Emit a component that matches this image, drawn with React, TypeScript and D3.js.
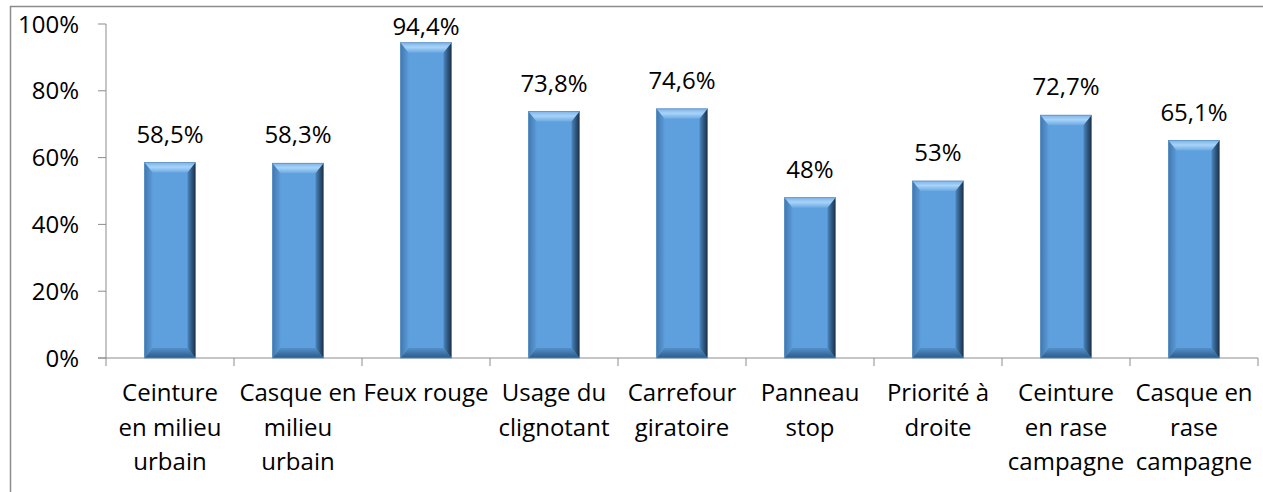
import React from "react";
import * as d3 from "d3";

// data
const categories = [
  ["Ceinture", "en milieu", "urbain"],
  ["Casque en", "milieu", "urbain"],
  ["Feux rouge"],
  ["Usage du", "clignotant"],
  ["Carrefour", "giratoire"],
  ["Panneau", "stop"],
  ["Priorité à", "droite"],
  ["Ceinture", "en rase", "campagne"],
  ["Casque en", "rase", "campagne"],
];
const values = [58.5, 58.3, 94.4, 73.8, 74.6, 48, 53, 72.7, 65.1];
const valueLabels = ["58,5%", "58,3%", "94,4%", "73,8%", "74,6%", "48%", "53%", "72,7%", "65,1%"];
const yTicks = [0, 20, 40, 60, 80, 100];

const W = 1263;
const H = 492;
const left = 106;
const right = 1258;
const top = 24;
const bottom = 358;
const font = "'Open Sans', sans-serif";
const fontSize = 24;

function Bar({ x, y, w, h }: { x: number; y: number; w: number; h: number }) {
  const b = Math.min(10, h / 2);
  const s = 8;
  return (
    <g>
      <rect x={x} y={y} width={w} height={h} fill="#5e9fdd" />
      {/* top bevel */}
      <polygon
        points={`${x},${y} ${x + w},${y} ${x + w - s},${y + b} ${x + s},${y + b}`}
        fill="url(#bevTop)"
      />
      {/* bottom bevel */}
      <polygon
        points={`${x},${y + h} ${x + w},${y + h} ${x + w - s},${y + h - b} ${x + s},${y + h - b}`}
        fill="url(#bevBottom)"
      />
      {/* left bevel */}
      <polygon
        points={`${x},${y} ${x + s},${y + b} ${x + s},${y + h - b} ${x},${y + h}`}
        fill="url(#bevLeft)"
      />
      {/* right bevel */}
      <polygon
        points={`${x + w},${y} ${x + w - s},${y + b} ${x + w - s},${y + h - b} ${x + w},${y + h}`}
        fill="url(#bevRight)"
      />
      <rect x={x} y={y} width={w} height={h} fill="none" stroke="#5a8fc2" strokeWidth={0.8} />
    </g>
  );
}

export default function App() {
  const xScale = d3
    .scaleBand<number>()
    .domain(values.map((_, i) => i))
    .range([left, right])
    .paddingInner(0.6)
    .paddingOuter(0.3);
  const band = (right - left) / values.length;
  const yScale = d3.scaleLinear().domain([0, 100]).range([bottom, top]);

  return (
    <svg
      width={W}
      height={H}
      style={{ position: "absolute", left: 0, top: 0, background: "#fff" }}
      fontFamily={font}
    >
      <defs>
        <linearGradient id="bevTop" x1="0" y1="0" x2="0" y2="1">
          <stop offset="0" stopColor="#7cb4ea" />
          <stop offset="0.45" stopColor="#a9d3f7" />
          <stop offset="1" stopColor="#6aa9e4" />
        </linearGradient>
        <linearGradient id="bevBottom" x1="0" y1="0" x2="0" y2="1">
          <stop offset="0" stopColor="#5290cc" />
          <stop offset="1" stopColor="#2d5a87" />
        </linearGradient>
        <linearGradient id="bevLeft" x1="0" y1="0" x2="1" y2="0">
          <stop offset="0" stopColor="#4078b0" />
          <stop offset="1" stopColor="#5b9bd8" />
        </linearGradient>
        <linearGradient id="bevRight" x1="0" y1="0" x2="1" y2="0">
          <stop offset="0" stopColor="#4a84bd" />
          <stop offset="1" stopColor="#182f47" />
        </linearGradient>
      </defs>

      {/* frame of the embedded chart */}
      <line x1={10} x2={W} y1={6.5} y2={6.5} stroke="#8c8c8c" strokeWidth={1.5} />
      <line x1={10.5} x2={10.5} y1={6} y2={H} stroke="#8c8c8c" strokeWidth={1.5} />

      {/* y axis */}
      <line x1={left} x2={left} y1={top} y2={bottom} stroke="#8c8c8c" />
      {yTicks.map((t) => (
        <g key={t}>
          <line x1={left - 8} x2={left} y1={yScale(t)} y2={yScale(t)} stroke="#8c8c8c" />
          <text
            x={79}
            y={yScale(t) + 8.5}
            textAnchor="end"
            fontSize={fontSize}
            fill="#000"
          >
            {t}%
          </text>
        </g>
      ))}

      {/* x axis */}
      <line x1={left - 8} x2={right} y1={bottom} y2={bottom} stroke="#8c8c8c" />
      {d3.range(values.length + 1).map((i) => (
        <line
          key={i}
          x1={left + i * band}
          x2={left + i * band}
          y1={bottom}
          y2={bottom + 8}
          stroke="#8c8c8c"
        />
      ))}

      {/* bars */}
      {values.map((v, i) => (
        <Bar
          key={i}
          x={xScale(i)!}
          y={yScale(v)}
          w={xScale.bandwidth()}
          h={bottom - yScale(v)}
        />
      ))}

      {/* value labels, pushed down when they would leave the chart area */}
      {values.map((v, i) => (
        <text
          key={i}
          x={xScale(i)! + xScale.bandwidth() / 2}
          y={Math.max(yScale(v) - 20, 35)}
          textAnchor="middle"
          fontSize={fontSize}
          fill="#000"
        >
          {valueLabels[i]}
        </text>
      ))}

      {/* category labels */}
      {categories.map((lines, i) => (
        <text
          key={i}
          x={xScale(i)! + xScale.bandwidth() / 2}
          textAnchor="middle"
          fontSize={fontSize}
          fill="#000"
        >
          {lines.map((l, j) => (
            <tspan key={j} x={xScale(i)! + xScale.bandwidth() / 2} y={401 + j * 34.5}>
              {l}
            </tspan>
          ))}
        </text>
      ))}
    </svg>
  );
}
